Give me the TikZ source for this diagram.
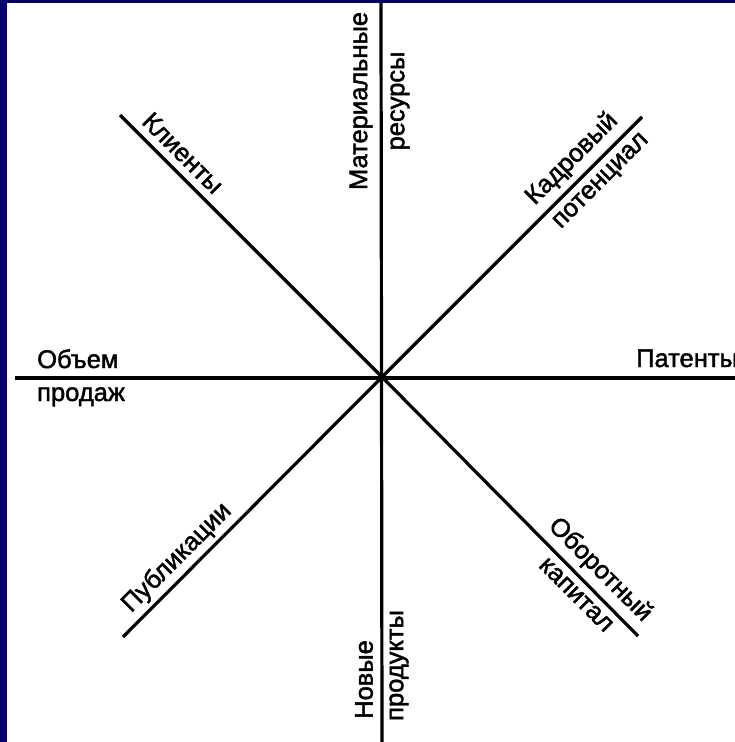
\documentclass[tikz,border=0pt]{standalone}
\usepackage{fontspec}
\setmainfont{Liberation Sans}
\newfontfamily\lblfont{Liberation Sans}[FakeBold=1.8]
\definecolor{frameblue}{RGB}{6,0,108}
\begin{document}
\begin{tikzpicture}[x=1pt,y=-1pt,
  axis/.style={line width=3.2pt, black},
  lbl/.style={font=\lblfont\fontsize{25.5}{30}\selectfont, inner sep=0pt, text=black}]
\useasboundingbox (0,0) rectangle (735,742);
% page and frame
\fill[white] (0,0) rectangle (735,742);
\fill[frameblue] (0,0) rectangle (735,3);
\fill[frameblue] (0,0) rectangle (7,742);
% axis ends
\coordinate (O) at (382,377);
\coordinate (W) at (15,378);
\coordinate (E) at (740,378);
\coordinate (N) at (381,3);
\coordinate (S) at (382,742);
\coordinate (NW) at (120,115);
\coordinate (NE) at (642,117);
\coordinate (SW) at (123,637);
\coordinate (SE) at (638,636);
% axes
\draw[axis] (W) -- (E);
\draw[axis] (N) -- (S);
\draw[axis] (NW) -- (O) -- (SE);
\draw[axis] (SW) -- (O) -- (NE);
% labels
\node[lbl, anchor=base west] (sales1) at (37,368) {Объем};
\node[lbl, anchor=base west] (sales2) at (37,401) {продаж};
\node[lbl, anchor=base west] (patents) at (636,367) {Патенты};
\node[lbl, rotate=90] (mat1) at (361,101) {Материальные};
\node[lbl, rotate=90] (mat2) at (400,101) {ресурсы};
\node[lbl, rotate=90, anchor=west] (new1) at (364,719) {Новые};
\node[lbl, rotate=90, anchor=west] (new2) at (399,721) {продукты};
\node[lbl, rotate=-45] (clients) at (183,153) {Клиенты};
\node[lbl, rotate=45] (staff1) at (572,159) {Кадровый};
\node[lbl, rotate=45] (staff2) at (602,182) {потенциал};
\node[lbl, rotate=45] (pubs) at (177,558) {Публикации};
\node[lbl, rotate=-45] (cap1) at (600,570) {Оборотный};
\node[lbl, rotate=-45] (cap2) at (576,595) {капитал};
\end{tikzpicture}
\end{document}
